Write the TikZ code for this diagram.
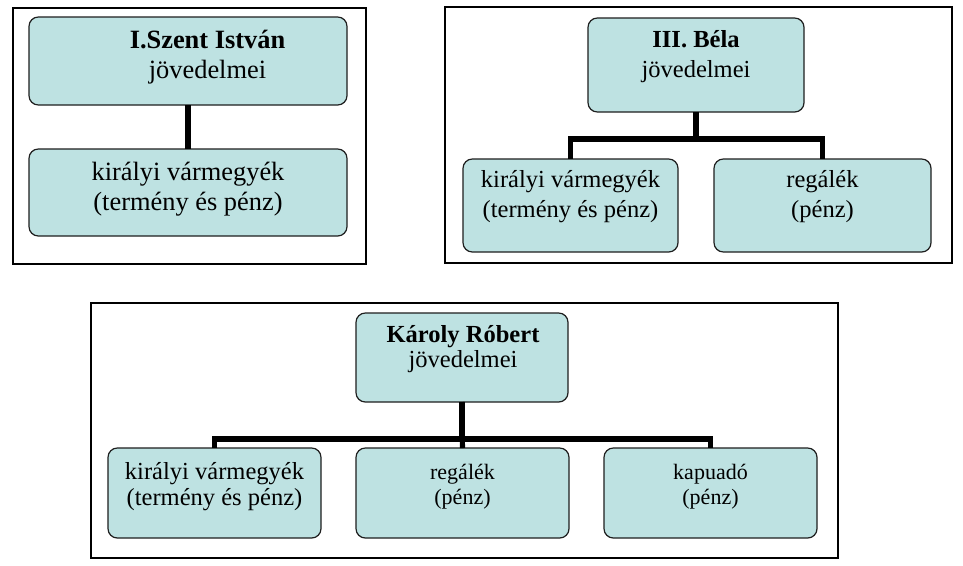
\documentclass[tikz,border=0pt]{standalone}
\usepackage{fontspec}
\setmainfont{Liberation Serif}
\definecolor{boxfill}{RGB}{190,226,226}
\definecolor{boxline}{RGB}{30,30,30}
\begin{document}
\begin{tikzpicture}[x=0.75pt,y=-0.75pt,
  frame/.style={draw=black,line width=1.6pt},
  box/.style={draw=boxline,line width=0.9pt,fill=boxfill,rounded corners=7pt,inner sep=0pt,outer sep=0pt},
  conn/.style={draw=black,line width=4.2pt,line join=miter},
  tA/.style={align=center,inner sep=0pt,font=\fontsize{19.8pt}{22.5pt}\selectfont},
  tB/.style={align=center,inner sep=0pt,font=\fontsize{18.4pt}{22.5pt}\selectfont},
  tC/.style={align=center,inner sep=0pt,font=\fontsize{18.4pt}{19pt}\selectfont},
  tD/.style={align=center,inner sep=0pt,font=\fontsize{16.5pt}{19pt}\selectfont}]
\useasboundingbox (0,0) rectangle (963,565);
\fill[white] (0,0) rectangle (963,565);
% frames
\draw[frame] (13,8) rectangle (366,264);
\draw[frame] (445,7) rectangle (952,263);
\draw[frame] (91,303) rectangle (838,558);
% frame 1
\node[box,minimum width=238.5pt,minimum height=66pt] (a0) at (188,61) {};
\node[box,minimum width=238.5pt,minimum height=65.25pt] (a1) at (188,192.5) {};
\draw[conn] (a0.south) -- (a1.north);
\node[tA] (a0t) at (207.5,57.5) {\textbf{I.Szent István}\\jövedelmei};
\node[tA] (a1t) at (188,189) {királyi vármegyék\\(termény és pénz)};
% frame 2
\node[box,minimum width=162pt,minimum height=70.5pt] (b0) at (696,65) {};
\node[box,minimum width=161.25pt,minimum height=69.75pt] (b1) at (570.5,205.5) {};
\node[box,minimum width=162.75pt,minimum height=69.75pt] (b2) at (822.5,205.5) {};
\draw[conn] (b0.south) -- ++(0,27) -| (b1.north);
\draw[conn] (b0.south) -- ++(0,27) -| (b2.north);
\node[tB] (b0t) at (696,56.5) {\textbf{III. Béla}\\jövedelmei};
\node[tB] (b1t) at (570.5,197) {királyi vármegyék\\(termény és pénz)};
\node[tB] (b2t) at (822.5,197) {regálék\\(pénz)};
% frame 3
\node[box,minimum width=159pt,minimum height=66.75pt] (c0) at (462,357.5) {};
\node[box,minimum width=159.75pt,minimum height=67.5pt] (c1) at (214.5,493) {};
\node[box,minimum width=159.75pt,minimum height=67.5pt] (c2) at (462.5,493) {};
\node[box,minimum width=159.75pt,minimum height=67.5pt] (c3) at (710.5,493) {};
\draw[conn,line width=3.8pt] (c0.south) -- ++(0,37) -| (c1.north);
\draw[conn,line width=3.8pt] (c0.south) -- ++(0,37) -| (c3.north);
\draw[conn,line width=3.8pt] (c0.south) -- (c2.north);
\node[tC] (c0t) at (463,349) {\textbf{Károly Róbert}\\jövedelmei};
\node[tC] (c1t) at (214.5,486.5) {királyi vármegyék\\(termény és pénz)};
\node[tD] (c2t) at (462.5,486.5) {regálék\\(pénz)};
\node[tD] (c3t) at (710.5,486.5) {kapuadó\\(pénz)};
\end{tikzpicture}
\end{document}
